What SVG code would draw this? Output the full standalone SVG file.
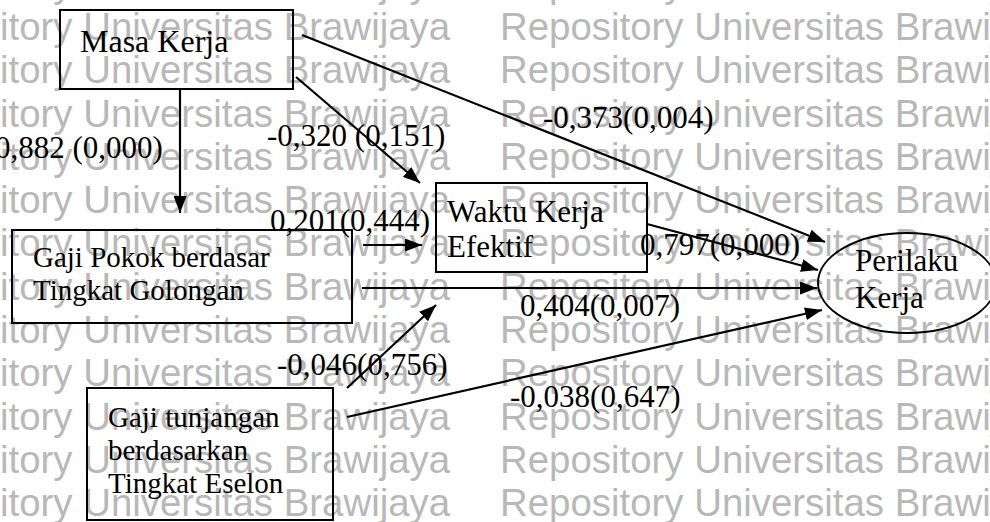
<svg xmlns="http://www.w3.org/2000/svg" width="990" height="522" viewBox="0 0 990 522">
<style>
.wm{font-family:"Liberation Sans",Arial,sans-serif;font-size:38.4px;fill:#b8b8b8}
.box{fill:none;stroke:#000;stroke-width:2}
.nt{font-family:"Liberation Serif","Times New Roman",serif;fill:#000}
.lb{font-family:"Liberation Serif","Times New Roman",serif;font-size:31px;fill:#000}
.cn{stroke:#000;stroke-width:2.2;fill:none;marker-end:url(#ah)}
</style>
<defs>
<marker id="ah" markerUnits="userSpaceOnUse" markerWidth="17" markerHeight="13" refX="17" refY="6.5" orient="auto">
<path d="M0,0 L17,6.5 L0,13 z" fill="#000"/>
</marker>
</defs>
<rect width="990" height="522" fill="#fff"/>
<g id="watermark">
<text class="wm" x="-111" y="-3">Repository Universitas Brawijaya</text><text class="wm" x="500" y="-3">Repository Universitas Brawijaya</text>
<text class="wm" x="-111" y="40">Repository Universitas Brawijaya</text><text class="wm" x="500" y="40">Repository Universitas Brawijaya</text>
<text class="wm" x="-111" y="83">Repository Universitas Brawijaya</text><text class="wm" x="500" y="83">Repository Universitas Brawijaya</text>
<text class="wm" x="-111" y="127">Repository Universitas Brawijaya</text><text class="wm" x="500" y="127">Repository Universitas Brawijaya</text>
<text class="wm" x="-111" y="170">Repository Universitas Brawijaya</text><text class="wm" x="500" y="170">Repository Universitas Brawijaya</text>
<text class="wm" x="-111" y="213">Repository Universitas Brawijaya</text><text class="wm" x="500" y="213">Repository Universitas Brawijaya</text>
<text class="wm" x="-111" y="256">Repository Universitas Brawijaya</text><text class="wm" x="500" y="256">Repository Universitas Brawijaya</text>
<text class="wm" x="-111" y="300">Repository Universitas Brawijaya</text><text class="wm" x="500" y="300">Repository Universitas Brawijaya</text>
<text class="wm" x="-111" y="343">Repository Universitas Brawijaya</text><text class="wm" x="500" y="343">Repository Universitas Brawijaya</text>
<text class="wm" x="-111" y="386">Repository Universitas Brawijaya</text><text class="wm" x="500" y="386">Repository Universitas Brawijaya</text>
<text class="wm" x="-111" y="430">Repository Universitas Brawijaya</text><text class="wm" x="500" y="430">Repository Universitas Brawijaya</text>
<text class="wm" x="-111" y="473">Repository Universitas Brawijaya</text><text class="wm" x="500" y="473">Repository Universitas Brawijaya</text>
<text class="wm" x="-111" y="516">Repository Universitas Brawijaya</text><text class="wm" x="500" y="516">Repository Universitas Brawijaya</text>
</g>
<g id="masa-kerja">
<rect class="box" x="60" y="10" width="233" height="79"/>
<text class="nt" x="80" y="52" font-size="32">Masa Kerja</text>
</g>
<g id="gaji-pokok">
<rect class="box" x="12" y="230" width="340" height="93"/>
<text class="nt" x="33" y="267" font-size="29">Gaji Pokok berdasar</text>
<text class="nt" x="33" y="300" font-size="29">Tingkat Golongan</text>
</g>
<g id="waktu-kerja">
<rect class="box" x="436" y="183" width="211" height="89"/>
<text class="nt" x="447" y="222" font-size="31">Waktu Kerja</text>
<text class="nt" x="447" y="257" font-size="31">Efektif</text>
</g>
<g id="gaji-tunjangan">
<rect class="box" x="87" y="388" width="246" height="132"/>
<text class="nt" x="108" y="427" font-size="29">Gaji tunjangan</text>
<text class="nt" x="108" y="460" font-size="29">berdasarkan</text>
<text class="nt" x="108" y="493" font-size="29">Tingkat Eselon</text>
</g>
<g id="perilaku-kerja">
<ellipse class="box" cx="907" cy="283" rx="89" ry="50"/>
<text class="nt" x="855" y="271" font-size="31">Perilaku</text>
<text class="nt" x="855" y="308" font-size="31">Kerja</text>
</g>
<g id="connectors">
<line class="cn" x1="180" y1="89" x2="180" y2="213"/>
<line class="cn" x1="296" y1="77" x2="420" y2="183"/>
<line class="cn" x1="302" y1="35" x2="825" y2="242"/>
<line class="cn" x1="363" y1="245" x2="422" y2="245"/>
<line class="cn" x1="362" y1="288" x2="817" y2="288"/>
<line class="cn" x1="647" y1="224" x2="818" y2="270"/>
<line class="cn" x1="347" y1="388" x2="436" y2="305"/>
<line class="cn" x1="347" y1="417" x2="822" y2="310"/>
</g>
<g id="labels">
<text class="lb" x="-5" y="158">0,882 (0,000)</text>
<text class="lb" x="267" y="146">-0,320 (0,151)</text>
<text class="lb" x="543" y="128">-0,373(0,004)</text>
<text class="lb" x="270" y="231">0,201(0,444)</text>
<text class="lb" x="640" y="255">0,797(0,000)</text>
<text class="lb" x="520" y="316">0,404(0,007)</text>
<text class="lb" x="277" y="375">-0,046(0,756)</text>
<text class="lb" x="510" y="407">-0,038(0,647)</text>
</g>
</svg>
